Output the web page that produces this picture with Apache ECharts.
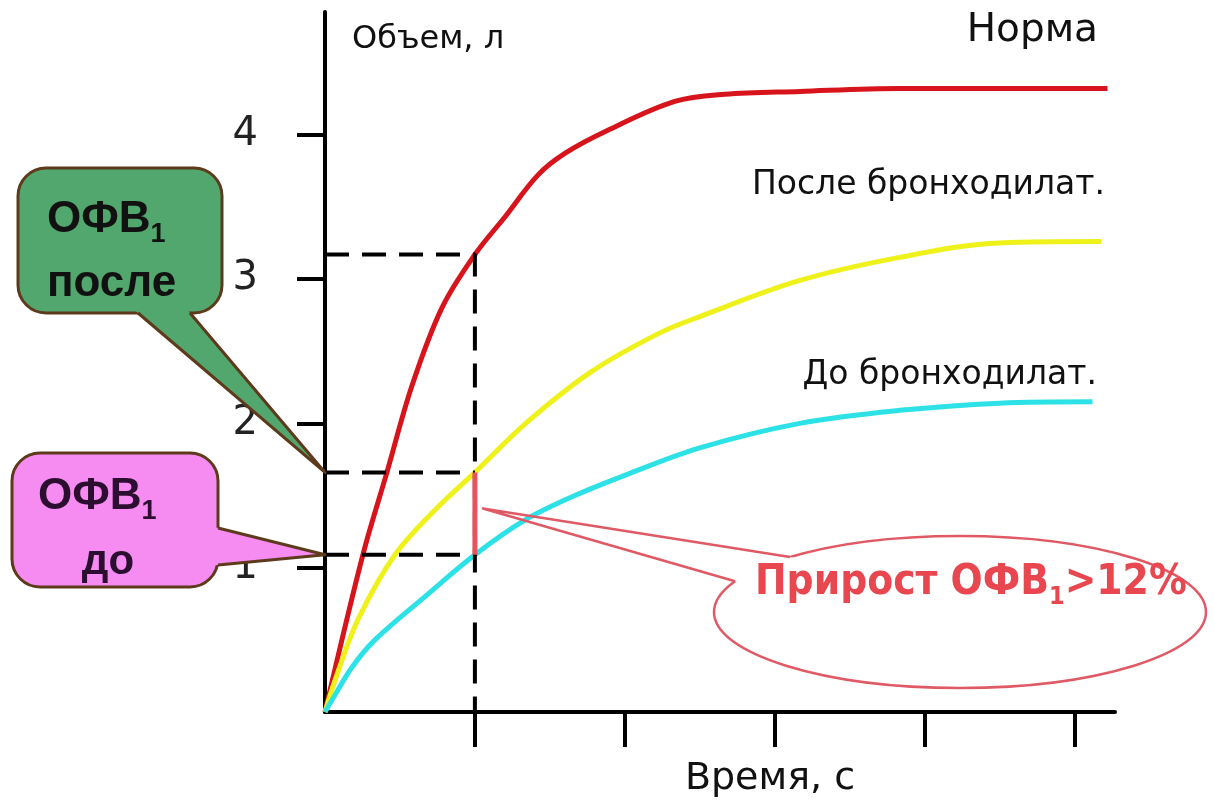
<!DOCTYPE html>
<html>
<head>
<meta charset="utf-8">
<script src="https://cdn.jsdelivr.net/npm/echarts@6/dist/echarts.min.js"></script>
<style>html,body{margin:0;padding:0;background:#fff}#chart{width:1215px;height:804px}</style>
</head>
<body>
<div id="chart"></div>
<script>
// ---- data (time, s / volume, l) ----
const timeNorma = [0, 0.253, 0.413, 0.58, 0.78, 1.0, 1.2, 1.42, 1.6, 1.887, 2.333, 2.667, 3.167, 3.833, 4.5, 5.22];
const volNorma  = [0, 1.09, 1.66, 2.26, 2.80, 3.17, 3.43, 3.72, 3.87, 4.03, 4.23, 4.28, 4.30, 4.32, 4.32, 4.32];
const timeAfter = [0, 0.067, 0.22, 0.467, 0.753, 1.0, 1.35, 1.78, 2.22, 2.5, 3.167, 3.833, 4.5, 5.18];
const volAfter  = [0, 0.22, 0.64, 1.09, 1.42, 1.66, 2.01, 2.36, 2.62, 2.74, 2.99, 3.15, 3.25, 3.26];
const timeBefore = [0, 0.047, 0.18, 0.333, 0.667, 1.0, 1.333, 1.667, 2.0, 2.5, 3.167, 3.833, 4.5, 5.12];
const volBefore  = [0, 0.083, 0.31, 0.50, 0.80, 1.09, 1.33, 1.50, 1.64, 1.83, 2.00, 2.09, 2.14, 2.15];
const fevTime = 1;          // 1 s mark
const fevNorma = 3.17;      // volume of normal curve at 1 s
const fevAfter = 1.66;      // ОФВ1 после
const fevBefore = 1.09;     // ОФВ1 до
const xTicks = [1, 2, 3, 4, 5];
const yTicks = [1, 2, 3, 4];
const seriesNames = ['Норма', 'После бронходилат.', 'До бронходилат.'];

const pairs = (t, v) => t.map((x, i) => [x, v[i]]);
const FONT = 'DejaVu Sans';

const chart = echarts.init(document.getElementById('chart'), null, {renderer: 'canvas'});

const dash = {color: '#000', width: 4, type: [24, 13]};
const option = {
  backgroundColor: '#ffffff',
  animation: false,
  grid: {left: 325, right: 100, top: 12, bottom: 92, containLabel: false},
  xAxis: {
    type: 'value', min: 0, max: 5.27, interval: 1,
    name: 'Время, с', nameLocation: 'middle', nameGap: 67,
    nameTextStyle: {fontFamily: FONT, fontSize: 38, color: '#111', verticalAlign: 'middle', padding: [0, 0, 0, 100]},
    axisLine: {show: true, lineStyle: {color: '#000', width: 4}},
    axisTick: {show: true, inside: false, length: 35, customValues: xTicks, lineStyle: {color: '#000', width: 4}},
    axisLabel: {show: false},
    splitLine: {show: false}
  },
  yAxis: {
    type: 'value', min: 0, max: 4.85, interval: 1,
    name: 'Объем, л', nameLocation: 'end', nameGap: -28,
    nameTextStyle: {fontFamily: FONT, fontSize: 32, color: '#111', align: 'left', verticalAlign: 'middle', padding: [0, 0, 0, 27]},
    axisLine: {show: true, lineStyle: {color: '#000', width: 4}},
    axisTick: {show: true, inside: false, length: 28, customValues: yTicks, lineStyle: {color: '#000', width: 4}},
    axisLabel: {show: true, customValues: yTicks, margin: 67, fontFamily: FONT, fontSize: 40, color: '#222'},
    splitLine: {show: false}
  },
  series: [
    {name: seriesNames[0], type: 'line', data: pairs(timeNorma, volNorma), smooth: 0.35, symbol: 'none', z: 3,
     lineStyle: {color: '#d7141c', width: 5}},
    {name: seriesNames[1], type: 'line', data: pairs(timeAfter, volAfter), smooth: 0.35, symbol: 'none', z: 3,
     lineStyle: {color: '#eef21a', width: 5}},
    {name: seriesNames[2], type: 'line', data: pairs(timeBefore, volBefore), smooth: 0.35, symbol: 'none', z: 3,
     lineStyle: {color: '#2ce2e6', width: 5}},
    {type: 'line', data: [[0, fevNorma], [fevTime, fevNorma], [fevTime, 0]], symbol: 'none', z: 4, lineStyle: dash},
    {type: 'line', data: [[0, fevAfter], [fevTime, fevAfter]], symbol: 'none', z: 4, lineStyle: dash},
    {type: 'line', data: [[0, fevBefore], [fevTime, fevBefore]], symbol: 'none', z: 4, lineStyle: dash},
    {type: 'line', data: [[fevTime, fevBefore], [fevTime, fevAfter]], symbol: 'none', z: 5, lineStyle: {color: '#e9535e', width: 5}}
  ]
};
chart.setOption(option);

// ---- annotations (callouts and curve captions) ----
const px = (t, v) => chart.convertToPixel({gridIndex: 0}, [t, v]);
const ext = (a, b, k) => [a[0] + (a[0] - b[0]) * k, a[1] + (a[1] - b[1]) * k];
const brown = '#5e3a1c';

// green callout (after)
const gTip = px(0, fevAfter);
const gL = [138, 313], gR = [190, 313];
// pink callout (before)
const pTip = px(0, fevBefore);
const pU = [218, 528], pD = [218, 565];
// red ellipse callout
const rTipBase = px(fevTime, (fevBefore + fevAfter) / 2);
const rTip = [rTipBase[0] + 8, rTipBase[1] - 5];
const ecx = 960, ecy = 612, erx = 246, ery = 76;
const onEll = x => [x, ecy - ery * Math.sqrt(1 - Math.pow((x - ecx) / erx, 2))];
const b1 = onEll(790), b2 = onEll(735);
const toward = (a, b, k) => [a[0] + (b[0] - a[0]) * k, a[1] + (b[1] - a[1]) * k];

const Z = 100;
const graphics = [
  // curve captions
  {type: 'text', z: Z, style: {text: seriesNames[0], x: 1098, y: 31, align: 'right', verticalAlign: 'middle', fontFamily: FONT, fontSize: 39, fill: '#111'}},
  {type: 'text', z: Z, style: {text: seriesNames[1], x: 1105, y: 185, align: 'right', verticalAlign: 'middle', fontFamily: FONT, fontSize: 33, fill: '#111'}},
  {type: 'text', z: Z, style: {text: seriesNames[2], x: 1097, y: 375, align: 'right', verticalAlign: 'middle', fontFamily: FONT, fontSize: 33, fill: '#111'}},

  // green callout
  {type: 'rect', z: Z, shape: {x: 18, y: 168, width: 204, height: 145, r: 28}, style: {fill: '#52a76e', stroke: brown, lineWidth: 3}},
  {type: 'polygon', z: Z + 1, shape: {points: [ext(gL, gTip, 0.1), ext(gR, gTip, 0.1), gTip]}, style: {fill: '#52a76e'}},
  {type: 'polyline', z: Z + 2, shape: {points: [gL, gTip, gR]}, style: {stroke: brown, lineWidth: 3, lineJoin: 'round', fill: null}},
  {type: 'text', z: Z + 3, style: {text: '{m|ОФВ}{s|1}', x: 47, y: 220, align: 'left', verticalAlign: 'middle',
    rich: {m: {fontFamily: 'Liberation Sans', fontWeight: 'bold', fontSize: 44, lineHeight: 56, fill: '#111'},
           s: {fontFamily: 'Liberation Sans', fontWeight: 'bold', fontSize: 27, lineHeight: 27, verticalAlign: 'bottom', fill: '#111'}}}},
  {type: 'text', z: Z + 3, style: {text: 'после', x: 47, y: 284, align: 'left', verticalAlign: 'middle', fontFamily: 'Liberation Sans', fontWeight: 'bold', fontSize: 44, fill: '#111'}},

  // pink callout
  {type: 'rect', z: Z, shape: {x: 12, y: 453, width: 206, height: 134, r: 28}, style: {fill: '#f68cf2', stroke: brown, lineWidth: 3}},
  {type: 'polygon', z: Z + 1, shape: {points: [ext(pU, pTip, 0.15), ext(pD, pTip, 0.15), pTip]}, style: {fill: '#f68cf2'}},
  {type: 'polyline', z: Z + 2, shape: {points: [pU, pTip, pD]}, style: {stroke: brown, lineWidth: 3, lineJoin: 'round', fill: null}},
  {type: 'text', z: Z + 3, style: {text: '{m|ОФВ}{s|1}', x: 38, y: 497, align: 'left', verticalAlign: 'middle',
    rich: {m: {fontFamily: 'Liberation Sans', fontWeight: 'bold', fontSize: 44, lineHeight: 56, fill: '#2c0f30'},
           s: {fontFamily: 'Liberation Sans', fontWeight: 'bold', fontSize: 27, lineHeight: 27, verticalAlign: 'bottom', fill: '#2c0f30'}}}},
  {type: 'text', z: Z + 3, style: {text: 'до', x: 108, y: 562, align: 'center', verticalAlign: 'middle', fontFamily: 'Liberation Sans', fontWeight: 'bold', fontSize: 42, fill: '#2c0f30'}},

  // red ellipse callout
  {type: 'ellipse', z: Z, shape: {cx: ecx, cy: ecy, rx: erx, ry: ery}, style: {fill: '#ffffff', stroke: '#e05a66', lineWidth: 2.5}},
  {type: 'polygon', z: Z + 1, shape: {points: [toward(b1, rTip, 0.06), ext(b1, rTip, 0.05), ext(b2, rTip, 0.05), toward(b2, rTip, 0.06)]}, style: {fill: '#ffffff'}},
  {type: 'polyline', z: Z + 2, shape: {points: [b1, rTip, b2]}, style: {stroke: '#e05a66', lineWidth: 2.5, lineJoin: 'round', fill: null}},
  {type: 'text', z: Z + 3, style: {text: '{m|Прирост ОФВ}{s|1}{m|>12%}', x: 755, y: 583, align: 'left', verticalAlign: 'middle',
    rich: {m: {fontFamily: 'DejaVu Sans Condensed', fontWeight: 'bold', fontSize: 42, lineHeight: 54, fill: '#e8474f'},
           s: {fontFamily: 'DejaVu Sans Condensed', fontWeight: 'bold', fontSize: 25, lineHeight: 25, verticalAlign: 'bottom', fill: '#e8474f'}}}}
];
chart.setOption({graphic: {elements: graphics}});
</script>
</body>
</html>
